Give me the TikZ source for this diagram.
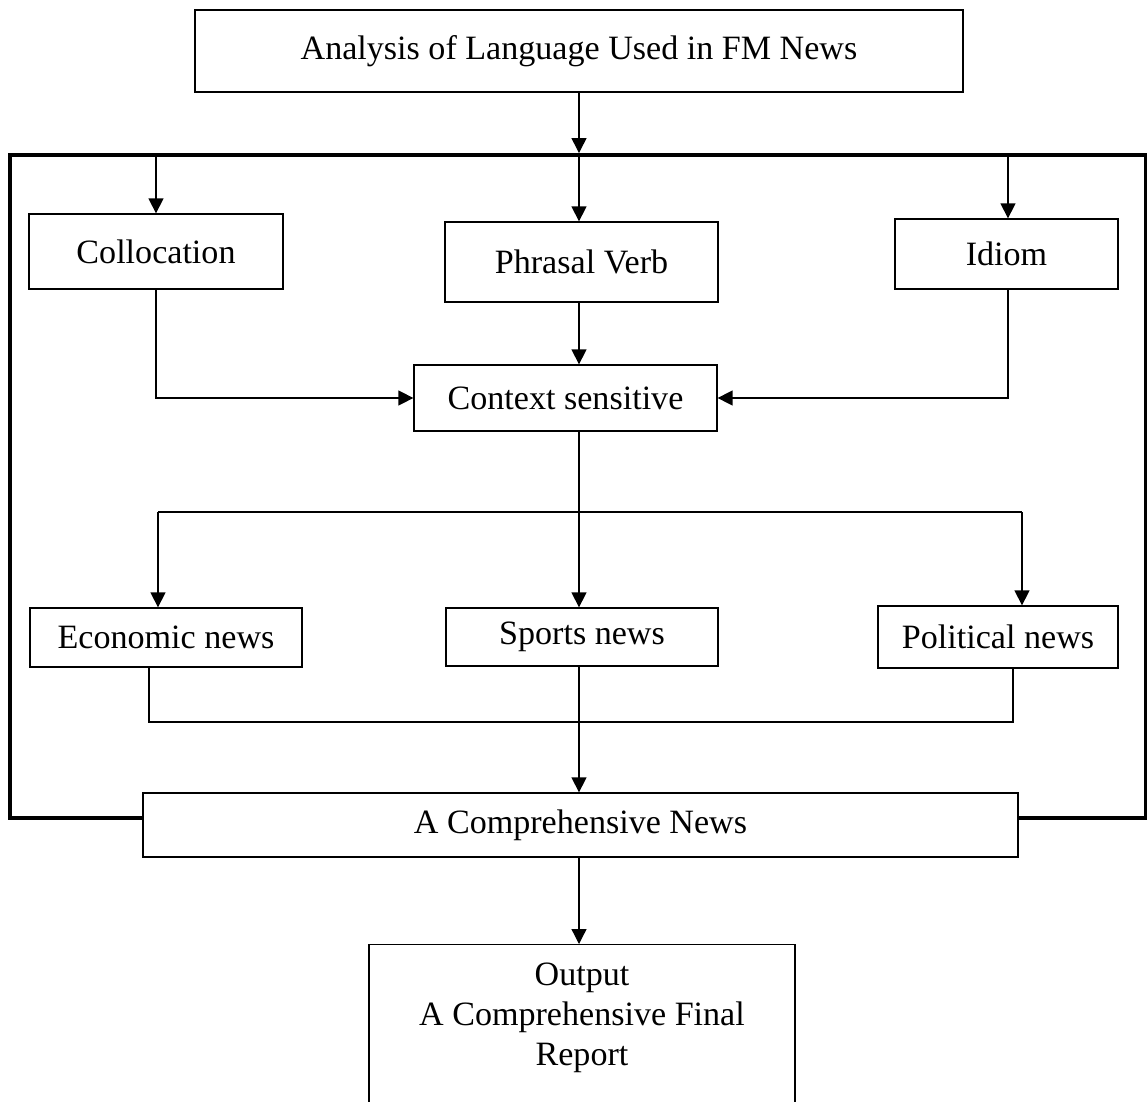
\documentclass[tikz,border=0pt]{standalone}
\usepackage{fontspec}
\setmainfont{Liberation Serif}
\usetikzlibrary{arrows.meta}
\begin{document}
\begin{tikzpicture}[x=0.02cm,y=-0.02cm,
    box/.style={draw,line width=0.75pt,fill=white,inner sep=0pt},
    frm/.style={draw,line width=2.3pt,inner sep=0pt},
    arr/.style={line width=0.75pt,-{Triangle[length=0.3cm,width=0.3cm]}},
    lin/.style={line width=0.75pt},
    every node/.style={font=\fontsize{19.4pt}{22.8pt}\selectfont}]
    \useasboundingbox (0,0) rectangle (1147,1102);
    %% frame
    \node[frm,minimum width=22.72cm,minimum height=13.26cm] (fram) at (578,486.5) {};
    %% blocks
    \node[box,minimum width=15.36cm,minimum height=1.64cm] (anl) at (579,51) {Analysis of Language Used in FM News};
    \node[box,minimum width=5.08cm,minimum height=1.5cm] (col) at (156,251.5) {Collocation};
    \node[box,minimum width=5.46cm,minimum height=1.6cm] (phv) at (581.5,262) {Phrasal Verb};
    \node[box,minimum width=4.46cm,minimum height=1.4cm] (idm) at (1006.5,254) {Idiom};
    \node[box,minimum width=6.06cm,minimum height=1.32cm] (ctx) at (565.5,398) {Context sensitive};
    \node[box,minimum width=5.44cm,minimum height=1.18cm] (eco) at (166,637.5) {Economic news};
    \node[box,minimum width=5.44cm,minimum height=1.16cm] (spt) at (582,637) {Sports news};
    \node[box,minimum width=4.8cm,minimum height=1.24cm] (pol) at (998,637) {Political news};
    \node[box,minimum width=17.5cm,minimum height=1.28cm] (cmp) at (580.5,825) {A Comprehensive News};
    \node[box,minimum width=8.52cm,minimum height=4cm,anchor=north] (out) at (582,944) {};
    \node[align=center,inner sep=0pt] (outtxt) at (582,1018) {Output\\A Comprehensive Final\\Report};
    %% forks
    \coordinate (fl) at (158,512);
    \coordinate (fr) at (1022,512);
    \coordinate (jl) at (149,722);
    \coordinate (jr) at (1013,722);
    %% arrows
    \draw[arr] (anl.south) -- (anl.south |- fram.north);
    \draw[arr] (fram.north -| col) -- (col.north);
    \draw[arr] (fram.north -| 579,0) -- (579,0 |- phv.north);
    \draw[arr] (fram.north -| 1008,0) -- (1008,0 |- idm.north);
    \draw[arr] (col.south) |- (ctx.west);
    \draw[arr] (1008,0 |- idm.south) |- (ctx.east);
    \draw[arr] (579,0 |- phv.south) -- (579,0 |- ctx.north);
    \draw[lin] (579,0 |- ctx.south) -- (579,0 |- fl);
    \draw[lin] (fl) -- (fr);
    \draw[arr] (fl) -- (fl |- eco.north);
    \draw[arr] (579,0 |- fl) -- (579,0 |- spt.north);
    \draw[arr] (fr) -- (fr |- pol.north);
    \draw[lin] (jl |- eco.south) -- (jl) -- (jr) -- (jr |- pol.south);
    \draw[arr] (579,0 |- spt.south) -- (579,0 |- cmp.north);
    \draw[arr] (579,0 |- cmp.south) -- (579,0 |- out.north);
\end{tikzpicture}
\end{document}
